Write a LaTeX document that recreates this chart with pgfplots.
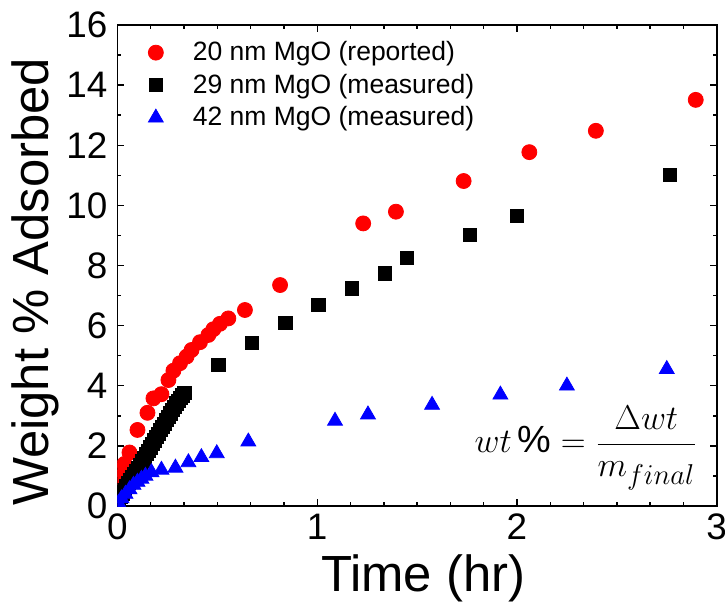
\documentclass[border=0pt]{standalone}
\usepackage{fontspec}
\setmainfont{Liberation Sans}
\usepackage{pgfplots}
\pgfplotsset{compat=1.18}

\begin{document}
\begin{tikzpicture}
\begin{axis}[
  name=ax,
  scale only axis,
  width=299.6bp,height=240.5bp,
  xmin=0,xmax=3,ymin=0,ymax=16,
  xtick={0,1,2,3},ytick={0,2,...,16},
  minor x tick num=5,minor y tick num=1,
  tick align=inside,
  major tick length=3.5bp,minor tick length=2bp,
  axis line style={line width=0.9bp},
  every tick/.style={line width=0.7bp,black},
  /pgf/number format/assume math mode=true,
  tick label style={font=\fontsize{18.5}{18.5}\selectfont},
  yticklabel style={xshift=-1.5bp},
  xticklabel style={yshift=-0.5bp},
  xlabel={Time (hr)},
  ylabel={Weight \% Adsorbed},
  label style={font=\fontsize{25.5}{25.5}\selectfont},
  xlabel style={at={(axis description cs:0.51,0)},anchor=center,yshift=-36bp},
  ylabel style={at={(axis description cs:-0.137,0.466)},anchor=center},
  clip marker paths=true,
  legend cell align=left,
  legend style={draw=none,fill=none,at={(axis description cs:0.02,0.983)},anchor=north west,
    font=\fontsize{13.3}{15}\selectfont,row sep=1.2bp},
  legend image code/.code={\path[draw=none,fill=none] (0bp,-3bp) rectangle (26.5bp,3bp);
    \draw[mark repeat=2,mark phase=2,#1] plot coordinates {(0bp,0bp)(10bp,0bp)(20bp,0bp)};},
]
% 20 nm MgO (reported)
\addplot[only marks,mark=*,mark size=3.75bp,draw=none,fill=red,color=red] coordinates {
  (0.01,0.95) (0.02,1.2) (0.035,1.4) (0.06,1.78) (0.10,2.53) (0.15,3.10)
  (0.18,3.58) (0.22,3.72) (0.255,4.19) (0.28,4.50) (0.313,4.75) (0.346,4.97)
  (0.371,5.19) (0.413,5.45) (0.455,5.69) (0.48,5.88) (0.513,6.06) (0.555,6.24)
  (0.638,6.52) (0.814,7.35) (1.23,9.40) (1.394,9.79) (1.733,10.81) (2.062,11.77)
  (2.395,12.48) (2.895,13.51)};
\addlegendentry{20 nm MgO (reported)}
% 29 nm MgO (measured)
\addplot[only marks,mark=square*,mark size=3.3bp,color=black] coordinates {
  (0.005,0.15) (0.015,0.30) (0.025,0.42) (0.035,0.54) (0.045,0.65) (0.055,0.76)
  (0.065,0.87) (0.075,0.97) (0.085,1.06) (0.095,1.15) (0.105,1.27) (0.115,1.38)
  (0.125,1.50) (0.135,1.61) (0.145,1.73) (0.155,1.84) (0.165,1.95) (0.175,2.07)
  (0.185,2.18) (0.195,2.30) (0.205,2.41) (0.215,2.52) (0.225,2.63) (0.235,2.74)
  (0.245,2.86) (0.255,2.97) (0.265,3.08) (0.275,3.19) (0.285,3.30) (0.295,3.41)
  (0.305,3.50) (0.315,3.60) (0.325,3.68) (0.335,3.75)
  (0.505,4.69) (0.672,5.43) (0.841,6.08) (1.006,6.69) (1.173,7.24) (1.34,7.74)
  (1.448,8.24) (1.765,9.02) (1.999,9.65) (2.766,11.01)};
\addlegendentry{29 nm MgO (measured)}
% 42 nm MgO (measured)
\addplot[only marks,mark=triangle*,mark size=4.3bp,color=blue] coordinates {
  (0.005,0.10) (0.02,0.25) (0.04,0.40) (0.06,0.55) (0.08,0.70) (0.10,0.80)
  (0.12,0.90) (0.14,1.00) (0.17,1.12) (0.22,1.20) (0.29,1.27) (0.355,1.45)
  (0.42,1.62) (0.497,1.75) (0.655,2.14) (1.089,2.83) (1.254,3.04) (1.575,3.36)
  (1.917,3.70) (2.25,4.00) (2.75,4.55)};
\addlegendentry{42 nm MgO (measured)}
\node[font=\fontsize{19}{22}\selectfont] at (axis cs:2.346,1.93)
  {$wt\,\% = \displaystyle\frac{\Delta wt}{m_{final}}$};
\end{axis}
\pgfresetboundingbox
\path ([shift={(-58.75bp,-50.5bp)}]ax.south west) rectangle ([shift={(4.15bp,12.5bp)}]ax.north east);
\end{tikzpicture}
\end{document}
